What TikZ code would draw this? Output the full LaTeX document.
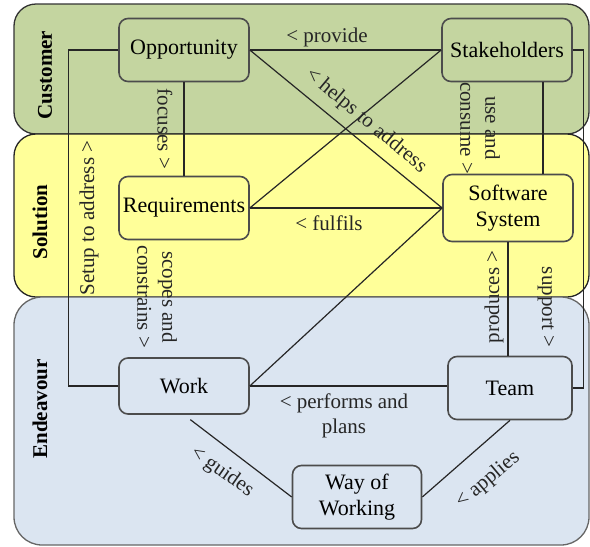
\documentclass[tikz,border=0pt]{standalone}
\usepackage{fontspec}
\setmainfont{Liberation Serif}
\usetikzlibrary{calc}
\definecolor{custgreen}{RGB}{196,213,160}
\definecolor{solyellow}{RGB}{255,255,153}
\definecolor{endblue}{RGB}{219,229,241}
\tikzset{
	alphabox/.style={draw=black!70, line width=1.6pt, rounded corners=9pt, minimum width=130pt, minimum height=63pt, align=center, inner sep=2pt, font=\fontsize{22}{26}\selectfont},
	areaband/.style={line width=1.3pt, rounded corners=22pt},
	arealabel/.style={font=\fontsize{21}{25}\selectfont\bfseries, rotate=90},
	rel/.style={draw=black!85, line width=1.2pt},
	rellabel/.style={font=\fontsize{21}{25}\selectfont, inner sep=0pt, align=center, text=black!85}
}

\begin{document}
\begin{tikzpicture}[x=1pt, y=-1pt]
			%%%%% START %%%%%
			\useasboundingbox (0,0) rectangle (590,547);
			
			% areas
			\draw[areaband, draw=black!80, fill=custgreen] (14,4) rectangle (589,134);
			\draw[areaband, draw=black!85, fill=solyellow] (14,134) rectangle (589,297);
			\draw[areaband, draw=black!60, fill=endblue, rounded corners=28pt] (14,297) rectangle (589,545);
			
			\node[arealabel] (customer) at (45,75) {Customer};
			\node[arealabel] (solution) at (40,222) {Solution};
			\node[arealabel] (endeavour) at (40,409) {Endeavour};
			
			% alphas
			\node[alphabox] (opportunity) at (184,50) {Opportunity};
			\node[alphabox] (stakeholders) at (507,50) {Stakeholders};
			\node[alphabox] (requirements) at (184,208) {Requirements};
			\node[alphabox, minimum height=67pt] (system) at (508,208) {Software\\System};
			\node[alphabox, minimum height=56pt] (work) at (184,386) {Work};
			\node[alphabox, minimum width=124pt] (team) at (510,388) {Team};
			\node[alphabox, minimum width=129pt] (wayofworking) at (357,497) {Way of\\Working};
			
			% relationships
			\draw[rel] (opportunity) -- (stakeholders);
			\draw[rel] (opportunity.west) -- ++(-50,0) |- (work.west);
			\draw[rel] (opportunity) -- (requirements);
			\draw[rel] (opportunity.east) -- (system.west);
			\draw[rel] (requirements.east) -- (stakeholders.west);
			\draw[rel] (requirements) -- (system);
			\draw[rel] ([xshift=36pt]stakeholders.south) -- ([xshift=35pt]system.north);
			\draw[rel] (stakeholders.east) -- ++(11,0) |- (team.east);
			\draw[rel] (system.south) -- (system.south |- team.north);
			\draw[rel] (work.east) -- (work.east -| team.west);
			\draw[rel] (work.east) -- (system.west);
			\draw[rel, shorten <=8pt] (work.south) -- (wayofworking.west);
			\draw[rel] (team.south) -- (wayofworking.east);
			
			% labels
			\node[rellabel] (providelbl) at (327,37) {\textless{} provide};
			\node[rellabel, rotate=90] (setuplbl) at (89,218) {Setup to address \textgreater};
			\node[rellabel, rotate=-90] (focuseslbl) at (165,129) {focuses \textgreater};
			\node[rellabel, rotate=-40] (helpslbl) at (366,121) {\textless{} helps to address};
			\node[rellabel, rotate=-90] (consumelbl) at (480,128) {use and\\consume \textgreater};
			\node[rellabel] (fulfilslbl) at (329,223) {\textless{} fulfils};
			\node[rellabel, rotate=-90] (scopeslbl) at (157,297) {scopes and\\constrains \textgreater};
			\node[rellabel, rotate=90] (produceslbl) at (494,297) {produces \textgreater};
			\node[rellabel, rotate=-90] (supportlbl) at (546,307) {support \textgreater};
			\node[rellabel] (performslbl) at (344,416) {\textless{} performs and\\plans};
			\node[rellabel, rotate=-35] (guideslbl) at (222,472) {\textless{} guides};
			\node[rellabel, rotate=40] (applieslbl) at (488,480) {\textless{} applies};
			
			%%%%% END %%%%%
\end{tikzpicture}
\end{document}
